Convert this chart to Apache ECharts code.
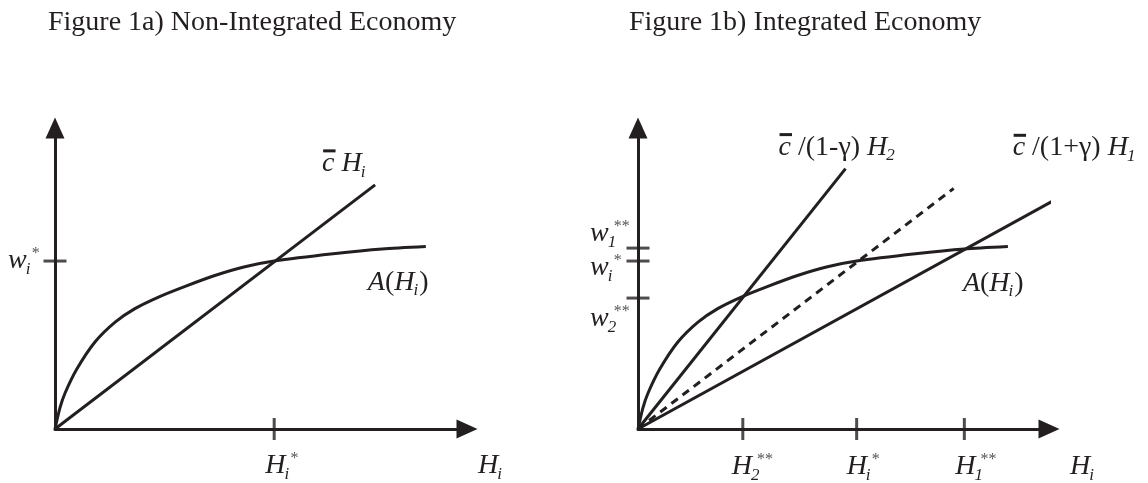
<!DOCTYPE html>
<html>
<head>
<meta charset="utf-8">
<script src="https://cdn.jsdelivr.net/npm/echarts@6/dist/echarts.min.js"></script>
<style>
html, body { margin: 0; padding: 0; background: #fff; }
#chart { width: 1148px; height: 483px; }
</style>
</head>
<body>
<div id="chart"></div>
<script>
// both axes run 0..100 (arrow tip excluded)
// A(H) curve, shared by both panels
var curveA = [[0, 0], [1.2, 7.0], [2.4, 11.8], [5.3, 19.9], [9.7, 28.9], [14.6, 35.5], [19.4, 40.0],
              [25.4, 44.0], [31.6, 47.4], [38.8, 51.0], [46.1, 53.9], [53.2, 55.8], [67.5, 58.2],
              [79.4, 59.8], [90, 60.6]];
// panel a: c H_i
var lineCost = [[0, 0], [77.7, 81.1]];
// panel b
var lineCost2 = [[0, 0], [50.5, 86.5]];    // c/(1-g) H_2
var lineCostMid = [[0, 0], [76.8, 79.9]];  // dashed
var lineCost1 = [[0, 0], [116.7, 87.6]];   // c/(1+g) H_1
var ticksAX = [53.2];               // H_i*
var ticksAY = [55.8];               // w_i*
var ticksBX = [25.5, 53.2, 79.4];   // H_2**, H_i*, H_1**
var ticksBY = [60.1, 55.8, 43.5];   // w_1**, w_i*, w_2**

var INK = '#231f20';
var STAR = '#555';
var SERIF = '"Liberation Serif", "Times New Roman", serif';
var MAIN = 28, SMALL = 17;

var chart = echarts.init(document.getElementById('chart'));

// text measuring for the little math labels
var ctx2d = document.createElement('canvas').getContext('2d');
function textW(t, size, italic) {
    ctx2d.font = (italic ? 'italic ' : '') + size + 'px ' + SERIF;
    return ctx2d.measureText(t).width;
}
function txt(t, x, base, size, italic, color) {
    return {
        type: 'text', x: x, y: base - 0.33 * size,
        style: { text: t, fontSize: size, fontFamily: SERIF, fontStyle: italic ? 'italic' : 'normal',
                 fill: color || INK, align: 'left', verticalAlign: 'middle' }
    };
}
// parts: {t, i, bar} for base text, {sub, sup} for stacked scripts
function mathText(parts, x, base) {
    var out = [], cx = x;
    parts.forEach(function (p) {
        if (p.t !== undefined) {
            var w = textW(p.t, MAIN, p.i);
            out.push(txt(p.t, cx, base, MAIN, p.i));
            if (p.bar) {
                out.push({ type: 'rect', shape: { x: cx + 1, y: base - 0.84 * MAIN, width: w, height: 3 },
                           style: { fill: INK } });
            }
            cx += w;
        } else {
            var sw = 0;
            if (p.sub) {
                out.push(txt(p.sub, cx - 1, base + 5, SMALL, true));
                sw = textW(p.sub, SMALL, true);
            }
            if (p.sup) {
                out.push(txt(p.sup, cx + 5, base - 11, SMALL - 1, false, STAR));
                sw = Math.max(sw, textW(p.sup, SMALL - 1, false) + 5);
            }
            cx += sw;
        }
    });
    return out;
}

function H(sub, sup) { return [{ t: 'H', i: 1 }, { sub: sub, sup: sup }]; }
function W(sub, sup) { return [{ t: 'w', i: 1 }, { sub: sub, sup: sup }]; }
var A_H = [{ t: 'A', i: 1 }, { t: '(' }, { t: 'H', i: 1 }, { sub: 'i' }, { t: ')' }];

// label = anchor in data units + pixel offset of the left baseline
function labelSeries(g, items) {
    return {
        type: 'custom', xAxisIndex: g, yAxisIndex: g, silent: true, clip: false, z: 10,
        data: items.map(function (it) { return it.at; }),
        renderItem: function (params, api) {
            var it = items[params.dataIndex];
            var p = api.coord([api.value(0), api.value(1)]);
            return { type: 'group', children: mathText(it.parts, p[0] + it.dx, p[1] + it.dy) };
        }
    };
}

function axis(g) {
    return {
        type: 'value', gridIndex: g, min: 0, max: 100,
        axisLine: { show: true, onZero: false, symbol: ['none', 'triangle'], symbolSize: [19, 21],
                    lineStyle: { color: INK, width: 3 } },
        axisTick: { show: false }, axisLabel: { show: false }, splitLine: { show: false }
    };
}
function lineSeries(g, data, dashed) {
    return {
        type: 'line', xAxisIndex: g, yAxisIndex: g, data: data, symbol: 'none', clip: false, silent: true,
        lineStyle: { color: INK, width: 3, type: dashed ? [8, 6] : 'solid' }
    };
}
function curveSeries(g) {
    return {
        type: 'line', xAxisIndex: g, yAxisIndex: g, data: curveA, symbol: 'none', clip: false, silent: true,
        smooth: 0.25, lineStyle: { color: INK, width: 3 }
    };
}
function tickSeries(g, vals, onX) {
    return {
        type: 'scatter', xAxisIndex: g, yAxisIndex: g, symbol: 'rect', clip: false, silent: true, z: 5,
        symbolSize: onX ? [3, 22] : [23, 3],
        data: vals.map(function (v) { return onX ? [v, 0] : [0, v]; }),
        itemStyle: { color: INK }
    };
}

var titleStyle = { fontFamily: SERIF, fontSize: 28, fontWeight: 'normal', color: INK };

var option = {
    animation: false,
    backgroundColor: '#fff',
    title: [
        { text: 'Figure 1a) Non-Integrated Economy', left: 48, top: 9, padding: 0, textStyle: titleStyle },
        { text: 'Figure 1b) Integrated Economy', left: 629, top: 9, padding: 0, textStyle: titleStyle }
    ],
    grid: [
        { left: 55, top: 128, width: 412, height: 301 },
        { left: 638, top: 128, width: 411, height: 301 }
    ],
    xAxis: [axis(0), axis(1)],
    yAxis: [axis(0), axis(1)],
    series: [
        curveSeries(0),
        lineSeries(0, lineCost),
        tickSeries(0, ticksAX, true),
        tickSeries(0, ticksAY, false),
        labelSeries(0, [
            { at: lineCost[1], dx: -53, dy: -12, parts: [{ t: 'c', i: 1, bar: 1 }, { t: ' ' }, { t: 'H', i: 1 }, { sub: 'i' }] },
            { at: curveA[curveA.length - 1], dx: -58, dy: 45, parts: A_H },
            { at: [0, ticksAY[0]], dx: -47, dy: 9, parts: W('i', '*') },
            { at: [ticksAX[0], 0], dx: -9, dy: 46, parts: H('i', '*') },
            { at: [100, 0], dx: 11, dy: 46, parts: H('i') }
        ]),
        curveSeries(1),
        lineSeries(1, lineCost2),
        lineSeries(1, lineCostMid, true),
        lineSeries(1, lineCost1),
        tickSeries(1, ticksBX, true),
        tickSeries(1, ticksBY, false),
        labelSeries(1, [
            { at: lineCost2[1], dx: -67, dy: -12, parts: [{ t: 'c', i: 1, bar: 1 }, { t: ' /(1-\u03b3) ' }, { t: 'H', i: 1 }, { sub: '2' }] },
            { at: lineCost1[1], dx: -105, dy: -8, parts: [{ t: 'c', i: 1, bar: 1 }, { t: ' /(1+\u03b3) ' }, { t: 'H', i: 1 }, { sub: '1' }] },
            { at: curveA[curveA.length - 1], dx: -45, dy: 46, parts: A_H },
            { at: [0, ticksBY[0]], dx: -48, dy: -5, parts: W('1', '**') },
            { at: [0, ticksBY[1]], dx: -48, dy: 16, parts: W('i', '*') },
            { at: [0, ticksBY[2]], dx: -48, dy: 30, parts: W('2', '**') },
            { at: [ticksBX[0], 0], dx: -11, dy: 47, parts: H('2', '**') },
            { at: [ticksBX[1], 0], dx: -10, dy: 47, parts: H('i', '*') },
            { at: [ticksBX[2], 0], dx: -9, dy: 47, parts: H('1', '**') },
            { at: [100, 0], dx: 21, dy: 47, parts: H('i') }
        ])
    ]
};

chart.setOption(option);
</script>
</body>
</html>
